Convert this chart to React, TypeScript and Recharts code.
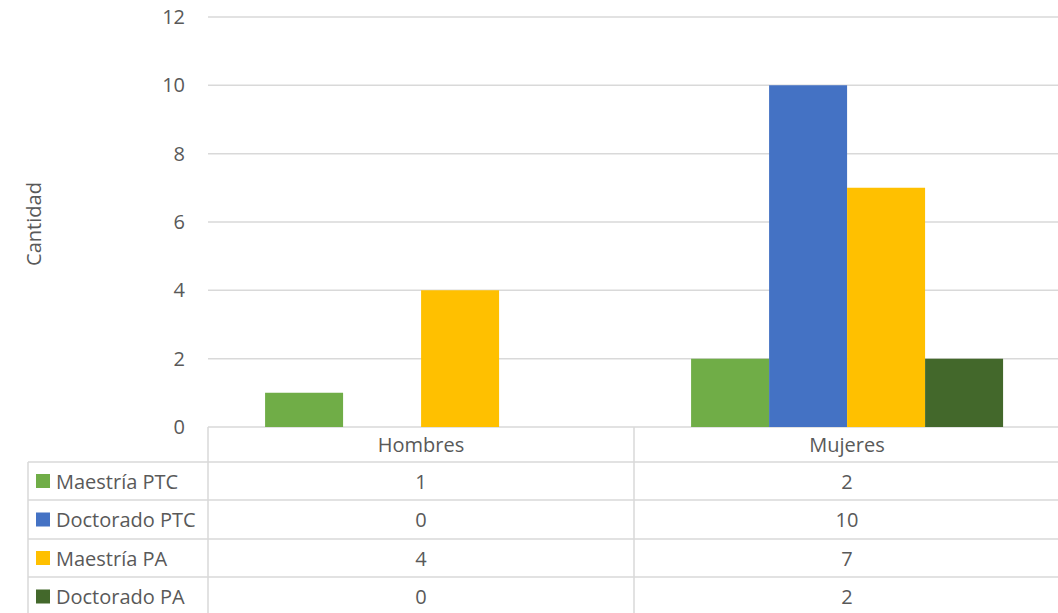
import { Bar, BarChart, CartesianGrid, XAxis, YAxis } from "recharts";

const categories = ["Hombres", "Mujeres"];
const seriesNames = ["Maestría PTC", "Doctorado PTC", "Maestría PA", "Doctorado PA"];
const maestriaPTC = [1, 2];
const doctoradoPTC = [0, 10];
const maestriaPA = [4, 7];
const doctoradoPA = [0, 2];
const yTicks = [0, 2, 4, 6, 8, 10, 12];

const colors = ["#70AD47", "#4472C4", "#FFC000", "#43682B"];
const seriesValues = [maestriaPTC, doctoradoPTC, maestriaPA, doctoradoPA];
const keys = ["mptc", "dptc", "mpa", "dpa"];

const data = categories.map((c, i) => ({
  name: c,
  mptc: maestriaPTC[i],
  dptc: doctoradoPTC[i],
  mpa: maestriaPA[i],
  dpa: doctoradoPA[i],
}));

const FONT = "'Open Sans', sans-serif";
const TEXT = "#595959";
const LINE = "#d9d9d9";
const FS = 20;

// table geometry
const headerTop = 427;
const rowLines = [462, 500, 539, 577, 616];

function TableTick(props: any) {
  const { x, payload, index } = props;
  return (
    <g>
      <text x={x} y={444} textAnchor="middle" dominantBaseline="central" fill={TEXT} fontSize={FS} fontFamily={FONT}>
        {payload.value}
      </text>
      {seriesValues.map((vals, r) => (
        <text
          key={r}
          x={x}
          y={(rowLines[r] + rowLines[r + 1]) / 2}
          textAnchor="middle"
          dominantBaseline="central"
          fill={TEXT}
          fontSize={FS}
          fontFamily={FONT}
        >
          {vals[index]}
        </text>
      ))}
    </g>
  );
}

export default function App() {
  return (
    <div style={{ position: "absolute", left: 0, top: 0, width: 1058, height: 613, overflow: "hidden", background: "#fff" }}>
      <BarChart
        width={1062}
        height={613}
        data={data}
        margin={{ top: 17, right: 2, left: 0, bottom: 0 }}
        barCategoryGap="13.4%"
        barGap={0}
      >
        <CartesianGrid vertical={false} stroke={LINE} strokeWidth={1.5} />
        <XAxis
          dataKey="name"
          height={186}
          axisLine={false}
          tickLine={false}
          tick={<TableTick />}
          interval={0}
        />
        <YAxis
          width={208}
          domain={[0, 12]}
          ticks={yTicks}
          axisLine={false}
          tickLine={false}
          tickSize={0}
          tickMargin={23}
          tick={{ fill: TEXT, fontSize: FS, fontFamily: FONT }}
        />
        {keys.map((k, i) => (
          <Bar key={k} dataKey={k} name={seriesNames[i]} fill={colors[i]} isAnimationActive={false} />
        ))}
      </BarChart>
      <svg width={1058} height={613} style={{ position: "absolute", left: 0, top: 0, pointerEvents: "none" }}>
        <text
          x={33}
          y={224}
          transform="rotate(-90 33 224)"
          textAnchor="middle"
          dominantBaseline="central"
          fill={TEXT}
          fontSize={FS}
          fontFamily={FONT}
        >
          Cantidad
        </text>
        {rowLines.map((y) => (
          <line key={y} x1={28} x2={1058} y1={y} y2={y} stroke={LINE} strokeWidth={1.5} />
        ))}
        <line x1={28} x2={28} y1={462} y2={613} stroke={LINE} strokeWidth={1.5} />
        <line x1={208} x2={208} y1={headerTop} y2={613} stroke={LINE} strokeWidth={1.5} />
        <line x1={634} x2={634} y1={headerTop} y2={613} stroke={LINE} strokeWidth={1.5} />
        {seriesNames.map((s, r) => {
          const cy = (rowLines[r] + rowLines[r + 1]) / 2;
          return (
            <g key={s}>
              <rect x={36} y={cy - 7} width={14} height={14} fill={colors[r]} />
              <text x={56} y={cy} dominantBaseline="central" fill={TEXT} fontSize={FS} fontFamily={FONT}>
                {s}
              </text>
            </g>
          );
        })}
      </svg>
    </div>
  );
}
